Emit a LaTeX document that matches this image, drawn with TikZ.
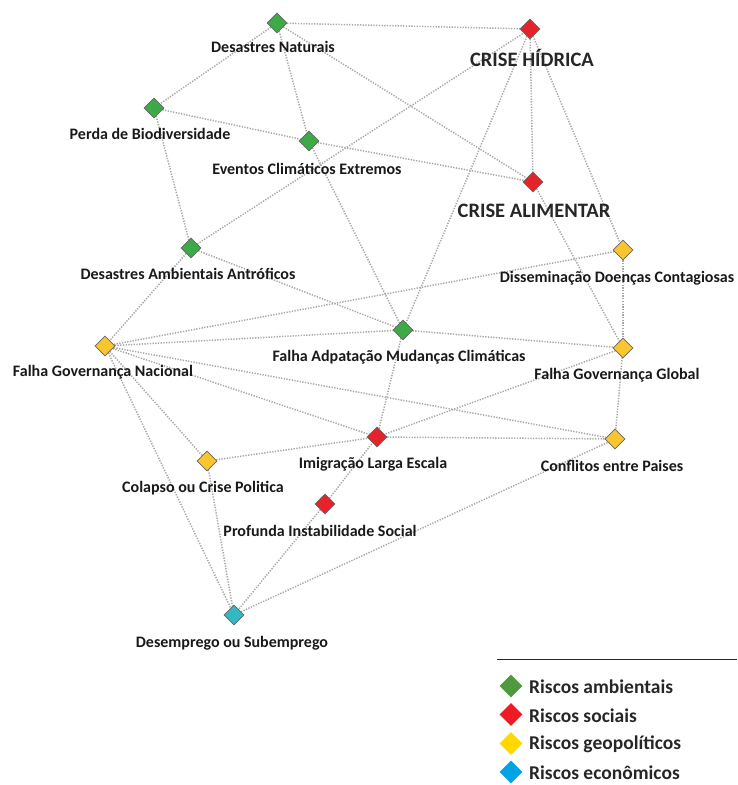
\documentclass[tikz,border=0pt]{standalone}
\usepackage{fontspec}
\setmainfont{Carlito}
\usetikzlibrary{shapes.geometric,backgrounds}
\definecolor{cgreen}{HTML}{3DAA47}
\definecolor{cred}{HTML}{E8222A}
\definecolor{cyellow}{HTML}{F9C630}
\definecolor{cteal}{HTML}{33B9C2}
\definecolor{lgreen}{HTML}{4E9A3C}
\definecolor{lred}{HTML}{ED1C24}
\definecolor{lyellow}{HTML}{FFD800}
\definecolor{lblue}{HTML}{00A4E4}
\definecolor{edgegray}{HTML}{A8A8A8}
\tikzset{
  risk/.style={diamond, draw=black!60, line width=0.6pt, minimum width=20pt, minimum height=20pt, inner sep=0pt},
  amb/.style={risk, fill=cgreen},
  soc/.style={risk, fill=cred},
  geo/.style={risk, fill=cyellow},
  eco/.style={risk, fill=cteal},
  lab/.style={font=\bfseries\fontsize{16}{18}\selectfont, inner sep=0pt, text=black!90},
  biglab/.style={font=\bfseries\fontsize{20.5}{22}\selectfont, inner sep=0pt, text=black!85},
  link/.style={draw=edgegray, line width=1.5pt, dash pattern=on 1.3pt off 1.4pt},
  legd/.style={diamond, minimum width=23pt, minimum height=23pt, inner sep=0pt},
  legtxt/.style={font=\bfseries\fontsize{19.5}{21}\selectfont, anchor=west, inner sep=0pt, text=black!85}
}
\begin{document}
\begin{tikzpicture}[x=1pt,y=-1pt]
\useasboundingbox (0,0) rectangle (737,785);
% nodes
\node[amb] (DN) at (277,23) {};
\node[soc] (CH) at (530,29) {};
\node[amb] (PB) at (154,108) {};
\node[amb] (ECE) at (309,141) {};
\node[soc] (CA) at (533,182) {};
\node[amb] (DAA) at (191,248) {};
\node[geo] (DDC) at (623,250) {};
\node[amb] (FAMC) at (403,330) {};
\node[geo] (FGN) at (105,346) {};
\node[geo] (FGG) at (623,348) {};
\node[soc] (ILE) at (377,437) {};
\node[geo] (CP) at (615,439) {};
\node[geo] (CCP) at (207,461) {};
\node[soc] (PIS) at (325,504) {};
\node[eco] (DS) at (234,615) {};
% labels
\node[lab] (DNl) at (273,47) {Desastres Naturais};
\node[biglab] (CHl) at (532,58) {CRISE HÍDRICA};
\node[lab] (PBl) at (150,134) {Perda de Biodiversidade};
\node[lab] (ECEl) at (307,169) {Eventos Climáticos Extremos};
\node[biglab] (CAl) at (534,211) {CRISE ALIMENTAR};
\node[lab] (DAAl) at (188,274) {Desastres Ambientais Antróficos};
\node[lab] (DDCl) at (617,278) {Disseminação Doenças Contagiosas};
\node[lab] (FAMCl) at (399,357) {Falha Adpatação Mudanças Climáticas};
\node[lab] (FGNl) at (103,372) {Falha Governança Nacional};
\node[lab] (FGGl) at (617,375) {Falha Governança Global};
\node[lab] (ILEl) at (373,464) {Imigração Larga Escala};
\node[lab] (CPl) at (612,466) {Conflitos entre Paises};
\node[lab] (CCPl) at (203,488) {Colapso ou Crise Politica};
\node[lab] (PISl) at (320,531) {Profunda Instabilidade Social};
\node[lab] (DSl) at (232,643) {Desemprego ou Subemprego};
% edges
\begin{scope}[on background layer]
\foreach \a/\b in {DN/CH, DN/PB, DN/ECE, DN/CA, PB/ECE, PB/DAA, ECE/CA, ECE/FAMC,
  DAA/CH, DAA/FAMC, DAA/FGN, CH/CA, CH/DDC, CH/FAMC, CA/FGG, DDC/FGG, DDC/FGN,
  FGN/FAMC, FGN/ILE, FGN/CP, FGN/CCP, FGN/DS, FAMC/FGG, FAMC/ILE, FGG/ILE, FGG/CP,
  ILE/CP, CCP/ILE, CCP/DS, PIS/ILE, PIS/DS, DS/CP}
  \draw[link] (\a) -- (\b);
\end{scope}
% legend
\coordinate (rl) at (497,659);
\coordinate (rr) at (737,659);
\draw[line width=1pt, black!85] (rl) -- (rr);
\node[legd, fill=lgreen] (L1) at (511,686) {};
\node[legd, fill=lred] (L2) at (511,714.5) {};
\node[legd, fill=lyellow] (L3) at (511,743.5) {};
\node[legd, fill=lblue] (L4) at (511,772) {};
\node[legtxt] (L1t) at (529,687) {Riscos ambientais};
\node[legtxt] (L2t) at (529,715.5) {Riscos sociais};
\node[legtxt] (L3t) at (529,744.5) {Riscos geopolíticos};
\node[legtxt] (L4t) at (529,773) {Riscos econômicos};
\end{tikzpicture}
\end{document}
